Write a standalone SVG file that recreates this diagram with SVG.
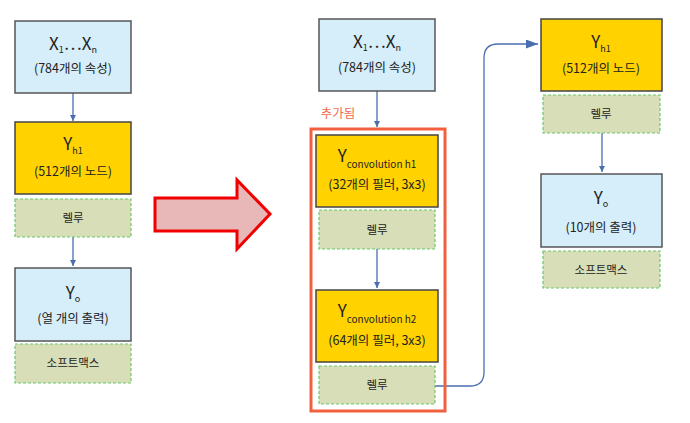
<svg xmlns="http://www.w3.org/2000/svg" width="690" height="423" viewBox="0 0 690 423">
<style>
.blue{fill:#D5EEFA;stroke:#555;stroke-width:1.5}
.yellow{fill:#FFD200;stroke:#444;stroke-width:1.5}
.act{fill:#D8DFB8;stroke:#6CC96A;stroke-width:1.2;stroke-dasharray:3 2}
text{font-family:"Noto Sans CJK KR","Noto Sans",sans-serif;fill:#222;text-anchor:middle}
.main{font-size:17px}
.sub{font-size:9px}
.csub{font-size:10px}
.cap{font-size:12.5px}
.act-t{font-size:11.5px}
.conn{fill:none;stroke:#4A6EAE;stroke-width:1.3}
</style>
<defs>
<marker id="ah" markerUnits="userSpaceOnUse" markerWidth="8" markerHeight="8" refX="6" refY="3" orient="auto">
<path d="M0,0 L6,3 L0,6 Z" fill="#4A6EAE"/>
</marker>
<marker id="ahb" markerUnits="userSpaceOnUse" markerWidth="14" markerHeight="10" refX="12" refY="4.5" orient="auto">
<path d="M0,0 L12,4.5 L0,9 Z" fill="#4A6EAE"/>
</marker>
</defs>

<g id="connectors">
<path class="conn" d="M73,93 V121" marker-end="url(#ah)"/>
<path class="conn" d="M73,237 V266" marker-end="url(#ah)"/>
<path class="conn" d="M377,91 V127" marker-end="url(#ah)"/>
<path class="conn" d="M377,249 V288" marker-end="url(#ah)"/>
<path class="conn" d="M602,133 V172" marker-end="url(#ah)"/>
<path class="conn" d="M435,386 H470 Q484,386 484,372 V58 Q484,44 498,44 H538" marker-end="url(#ahb)"/>
</g>

<g id="big-arrow">
<path d="M155,198 H237 V180 L270,214 L237,249 V231 H155 Z" fill="#E8B7B7" stroke="#F00000" stroke-width="3" stroke-linejoin="miter"/>
</g>

<g id="left-x">
<rect class="blue" x="15" y="21" width="116" height="72"/>
<text class="main" x="73" y="50">X<tspan class="sub" dy="3">1</tspan><tspan dy="-3">…X</tspan><tspan class="sub" dy="3">n</tspan></text>
<text class="cap" x="73" y="73">(784개의 속성)</text>
</g>
<g id="left-yh1">
<rect class="yellow" x="15" y="122" width="116" height="72"/>
<text class="main" x="73" y="150">Y<tspan class="sub" dy="4">h1</tspan></text>
<text class="cap" x="73" y="176">(512개의 노드)</text>
</g>
<g id="left-relu">
<rect class="act" x="15" y="199" width="116" height="38"/>
<text class="act-t" x="73" y="222">렐루</text>
</g>
<g id="left-yo">
<rect class="blue" x="15" y="268" width="116" height="73"/>
<text class="main" x="73" y="299">Y<tspan class="sub" dy="3">o</tspan></text>
<text class="cap" x="73" y="323">(열 개의 출력)</text>
</g>
<g id="left-softmax">
<rect class="act" x="15" y="344" width="116" height="39"/>
<text class="act-t" x="73" y="367">소프트맥스</text>
</g>

<g id="mid-x">
<rect class="blue" x="319" y="19" width="116" height="72"/>
<text class="main" x="377" y="48">X<tspan class="sub" dy="3">1</tspan><tspan dy="-3">…X</tspan><tspan class="sub" dy="3">n</tspan></text>
<text class="cap" x="377" y="72">(784개의 속성)</text>
</g>
<g id="added">
<text x="338" y="118" style="font-size:12.5px;fill:#F26B4E">추가됨</text>
<rect x="311" y="129" width="134" height="282" fill="none" stroke="#F2603F" stroke-width="3"/>
</g>
<g id="mid-conv1">
<rect class="yellow" x="316" y="135" width="122" height="72"/>
<text class="main" x="377" y="162">Y<tspan class="csub" dy="6">convolution h1</tspan></text>
<text class="cap" x="377" y="189">(32개의 필러, 3x3)</text>
</g>
<g id="mid-relu1">
<rect class="act" x="319" y="210" width="116" height="39"/>
<text class="act-t" x="377" y="234">렐루</text>
</g>
<g id="mid-conv2">
<rect class="yellow" x="316" y="290" width="122" height="72"/>
<text class="main" x="377" y="317">Y<tspan class="csub" dy="6">convolution h2</tspan></text>
<text class="cap" x="377" y="345">(64개의 필러, 3x3)</text>
</g>
<g id="mid-relu2">
<rect class="act" x="319" y="366" width="116" height="38"/>
<text class="act-t" x="377" y="389">렐루</text>
</g>

<g id="right-yh1">
<rect class="yellow" x="541" y="19" width="121" height="72"/>
<text class="main" x="601" y="48">Y<tspan class="sub" dy="4">h1</tspan></text>
<text class="cap" x="601" y="73">(512개의 노드)</text>
</g>
<g id="right-relu">
<rect class="act" x="543" y="95" width="117" height="38"/>
<text class="act-t" x="601" y="118">렐루</text>
</g>
<g id="right-yo">
<rect class="blue" x="541" y="174" width="121" height="73"/>
<text class="main" x="601" y="204">Y<tspan class="sub" dy="3">o</tspan></text>
<text class="cap" x="601" y="232">(10개의 출력)</text>
</g>
<g id="right-softmax">
<rect class="act" x="543" y="251" width="117" height="37"/>
<text class="act-t" x="601" y="274">소프트맥스</text>
</g>
</svg>
